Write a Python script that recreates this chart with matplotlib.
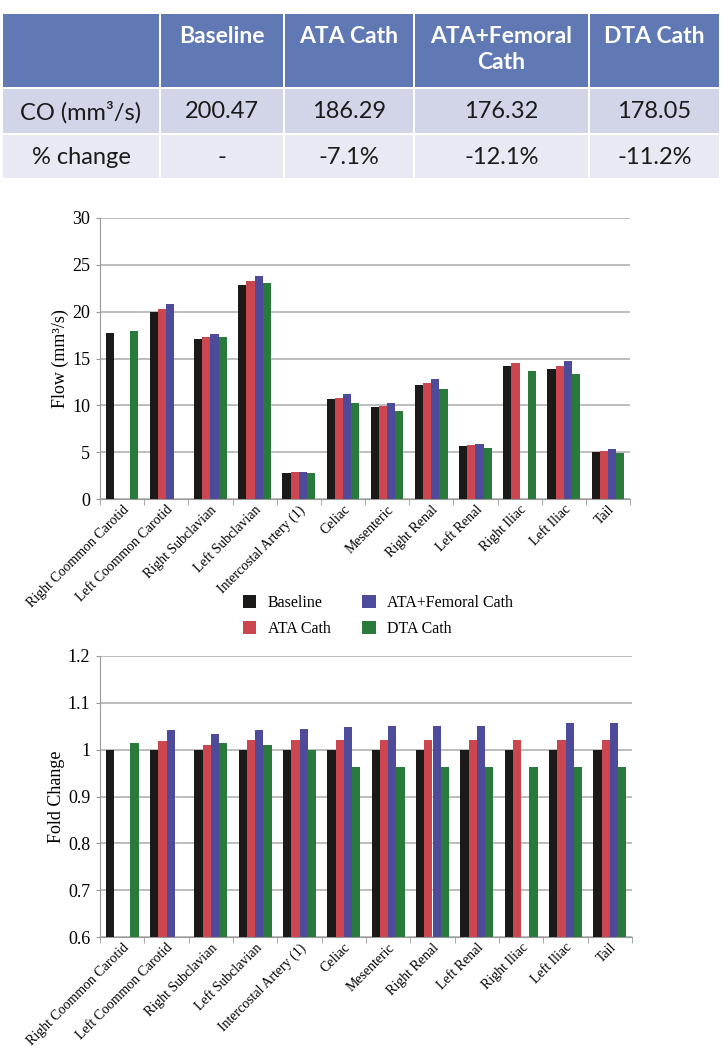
import numpy as np
import matplotlib
matplotlib.use("Agg")
import matplotlib.pyplot as plt
import matplotlib.transforms as mtransforms
from matplotlib.patches import Rectangle

# ---- data ----
vessels = ["Right Coommon Carotid", "Left Coommon Carotid", "Right Subclavian",
           "Left Subclavian", "Intercostal Artery (1)", "Celiac", "Mesenteric",
           "Right Renal", "Left Renal", "Right Iliac", "Left Iliac", "Tail"]
series_names = ["Baseline", "ATA Cath", "ATA+Femoral Cath", "DTA Cath"]
nan = np.nan

flow_baseline = [17.7, 20.0, 17.05, 22.85, 2.78, 10.64, 9.79, 12.18, 5.63, 14.25, 13.89, 5.06]
flow_ata = [nan, 20.3, 17.26, 23.3, 2.85, 10.82, 9.95, 12.43, 5.77, 14.53, 14.18, 5.17]
flow_femoral = [nan, 20.8, 17.6, 23.84, 2.92, 11.17, 10.25, 12.79, 5.91, nan, 14.68, 5.34]
flow_dta = [17.95, nan, 17.3, 23.1, 2.81, 10.21, 9.42, 11.72, 5.41, 13.68, 13.36, 4.88]

fold_baseline = [1.0] * 12
fold_ata = [nan, 1.018, 1.011, 1.020, 1.020, 1.020, 1.020, 1.020, 1.020, 1.020, 1.020, 1.020]
fold_femoral = [nan, 1.042, 1.033, 1.043, 1.045, 1.048, 1.050, 1.050, 1.050, nan, 1.058, 1.058]
fold_dta = [1.014, nan, 1.014, 1.011, 1.0, 0.963, 0.962, 0.962, 0.962, 0.962, 0.962, 0.962]

table_header = ["", "Baseline", "ATA Cath", "ATA+Femoral\nCath", "DTA Cath"]
co_row = ["CO (mm³/s)", "200.47", "186.29", "176.32", "178.05"]
change_row = ["% change", "-", "-7.1%", "-12.1%", "-11.2%"]

colors = ["#1c1a18", "#cc4650", "#4d4b9a", "#2a7b3b"]
grid_color = "#ababab"
serif = "Liberation Serif"

W, H = 728, 1050
fig = plt.figure(figsize=(W / 100, H / 100), dpi=100)


def px_axes(x0, y0, x1, y1):
    return fig.add_axes([x0 / W, 1 - y1 / H, (x1 - x0) / W, (y1 - y0) / H])


def bar_panel(ax, series, ylim, yticks, yticklabels, ylabel):
    """Grouped bars drawn up from the bottom of the axis, Excel style."""
    x = np.arange(len(vessels))
    width = 0.185
    base = ylim[0]
    for i, (vals, c) in enumerate(zip(series, colors)):
        ax.bar(x + (i - 1.5) * width, np.array(vals) - base, width, bottom=base,
               color=c, label=series_names[i], zorder=3)
    ax.set_xlim(-0.5, len(vessels) - 0.5)
    ax.set_ylim(*ylim)
    ax.set_yticks(yticks)
    ax.set_yticklabels(yticklabels, family=serif, fontsize=13)
    ax.yaxis.grid(True, color=grid_color, lw=1.1, zorder=0)
    ax.set_xticks(x)
    ax.set_xticklabels(vessels, rotation=45, ha="right", rotation_mode="anchor",
                       family=serif, fontsize=10)
    # nudge the slanted labels so they end just right of the group centre
    shift = mtransforms.ScaledTranslation(10 / 100, 6 / 100, fig.dpi_scale_trans)
    for lab in ax.get_xticklabels():
        lab.set_transform(lab.get_transform() + shift)
    ax.set_xticks(np.arange(-0.5, len(vessels)), minor=True)
    ax.tick_params(axis="x", which="major", length=0, pad=3)
    ax.tick_params(axis="x", which="minor", length=4, color="#999999")
    ax.tick_params(axis="y", length=3, color="#999999", pad=4)
    for s in ["top", "right"]:
        ax.spines[s].set_visible(False)
    for s in ["left", "bottom"]:
        ax.spines[s].set_color("#999999")
    ax.set_ylabel(ylabel, family=serif, fontsize=13, labelpad=2)


# ---- top chart: flow ----
ax1 = px_axes(100, 218, 630, 499)
bar_panel(ax1, [flow_baseline, flow_ata, flow_femoral, flow_dta], (0, 30),
          [0, 5, 10, 15, 20, 25, 30], ["0", "5", "10", "15", "20", "25", "30"],
          "Flow (mm³/s)")

# ---- bottom chart: fold change ----
ax2 = px_axes(100, 656, 632, 937)
bar_panel(ax2, [fold_baseline, fold_ata, fold_femoral, fold_dta], (0.6, 1.2),
          [0.6, 0.7, 0.8, 0.9, 1.0, 1.1, 1.2],
          ["0.6", "0.7", "0.8", "0.9", "1", "1.1", "1.2"], "Fold Change")

# ---- legend ----
handles, labels = ax1.get_legend_handles_labels()
fig.legend(handles, labels, ncol=2, loc="center", bbox_to_anchor=(378 / W, 1 - 616 / H),
           frameon=False, prop={"family": serif, "size": 11.5},
           handlelength=0.85, handleheight=0.85, handletextpad=0.7,
           columnspacing=2.0, labelspacing=0.65)

# ---- table ----
tax = fig.add_axes([0, 0, 1, 1])
tax.set_xlim(0, W)
tax.set_ylim(H, 0)
tax.axis("off")
col_edges = [2, 160, 284, 414, 589, 720]
row_edges = [13, 88, 134, 179]
row_fill = ["#6079b4", "#d2d5e8", "#e8e9f2"]
rows = [table_header, co_row, change_row]
for r, row in enumerate(rows):
    for c, txt in enumerate(row):
        x0, x1 = col_edges[c], col_edges[c + 1]
        y0, y1 = row_edges[r], row_edges[r + 1]
        tax.add_patch(Rectangle((x0 + 1, y0 + 1), x1 - x0 - 2, y1 - y0 - 2,
                                facecolor=row_fill[r], edgecolor="none"))
        if r == 0:
            tax.text((x0 + x1) / 2, y0 + 13, txt, ha="center", va="top", color="white",
                     family="Lato", fontweight="bold", fontsize=16.5, linespacing=1.3)
        else:
            tax.text((x0 + x1) / 2, (y0 + y1) / 2 + 1, txt, ha="center", va="center",
                     color="#1a1a1a", family="Lato", fontsize=17)

fig.savefig("out.png", dpi=100)
